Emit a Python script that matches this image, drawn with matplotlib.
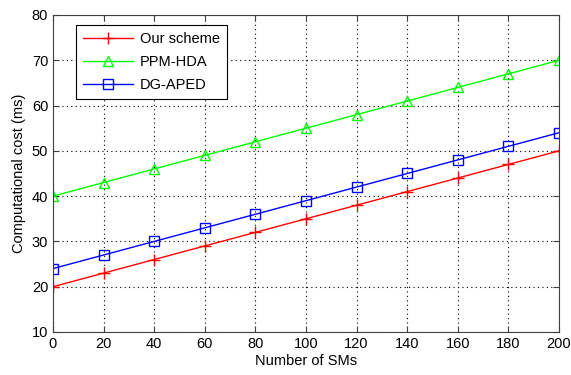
import matplotlib
matplotlib.use("Agg")
import matplotlib.pyplot as plt

x_sms = [0, 20, 40, 60, 80, 100, 120, 140, 160, 180, 200]
our_scheme = [20, 23, 26, 29, 32, 35, 38, 41, 44, 47, 50]
ppm_hda = [40, 43, 46, 49, 52, 55, 58, 61, 64, 67, 70]
dg_aped = [24, 27, 30, 33, 36, 39, 42, 45, 48, 51, 54]
labels = ["Our scheme", "PPM-HDA", "DG-APED"]

plt.rcParams['font.family'] = ['Liberation Sans', 'DejaVu Sans']
fs = 10.5

fig = plt.figure(figsize=(5.71, 3.75), dpi=100)
ax = fig.add_axes([0.0928, 0.1147, 0.8862, 0.8453])

ax.plot(x_sms, our_scheme, color='#ff0000', marker='+', markersize=8, lw=1, label=labels[0])
ax.plot(x_sms, ppm_hda, color='#00ff00', marker='^', markersize=7, markerfacecolor='none', lw=1, label=labels[1])
ax.plot(x_sms, dg_aped, color='#0000ff', marker='s', markersize=7, markerfacecolor='none', lw=1, label=labels[2])

ax.set_xlim(0, 200)
ax.set_ylim(10, 80)
ax.set_xticks(range(0, 201, 20))
ax.set_yticks(range(10, 81, 10))
ax.tick_params(direction='in', top=True, right=True, labelsize=fs, length=4, color='#404040')
ax.grid(True, linestyle=(0, (1, 3)), color='black', lw=0.8)
for s in ax.spines.values():
    s.set_color('#404040')
ax.set_xlabel("Number of SMs", fontsize=fs, labelpad=2)
ax.set_ylabel("Computational cost (ms)", fontsize=fs, labelpad=4)

leg = ax.legend(loc='upper left', bbox_to_anchor=(0.045, 0.968), borderaxespad=0, fontsize=fs,
                fancybox=False, edgecolor='black', framealpha=1, handlelength=3.4, borderpad=0.5,
                labelspacing=0.6, handletextpad=0.5)
leg.get_frame().set_linewidth(0.8)

fig.savefig("out.png", dpi=100)
